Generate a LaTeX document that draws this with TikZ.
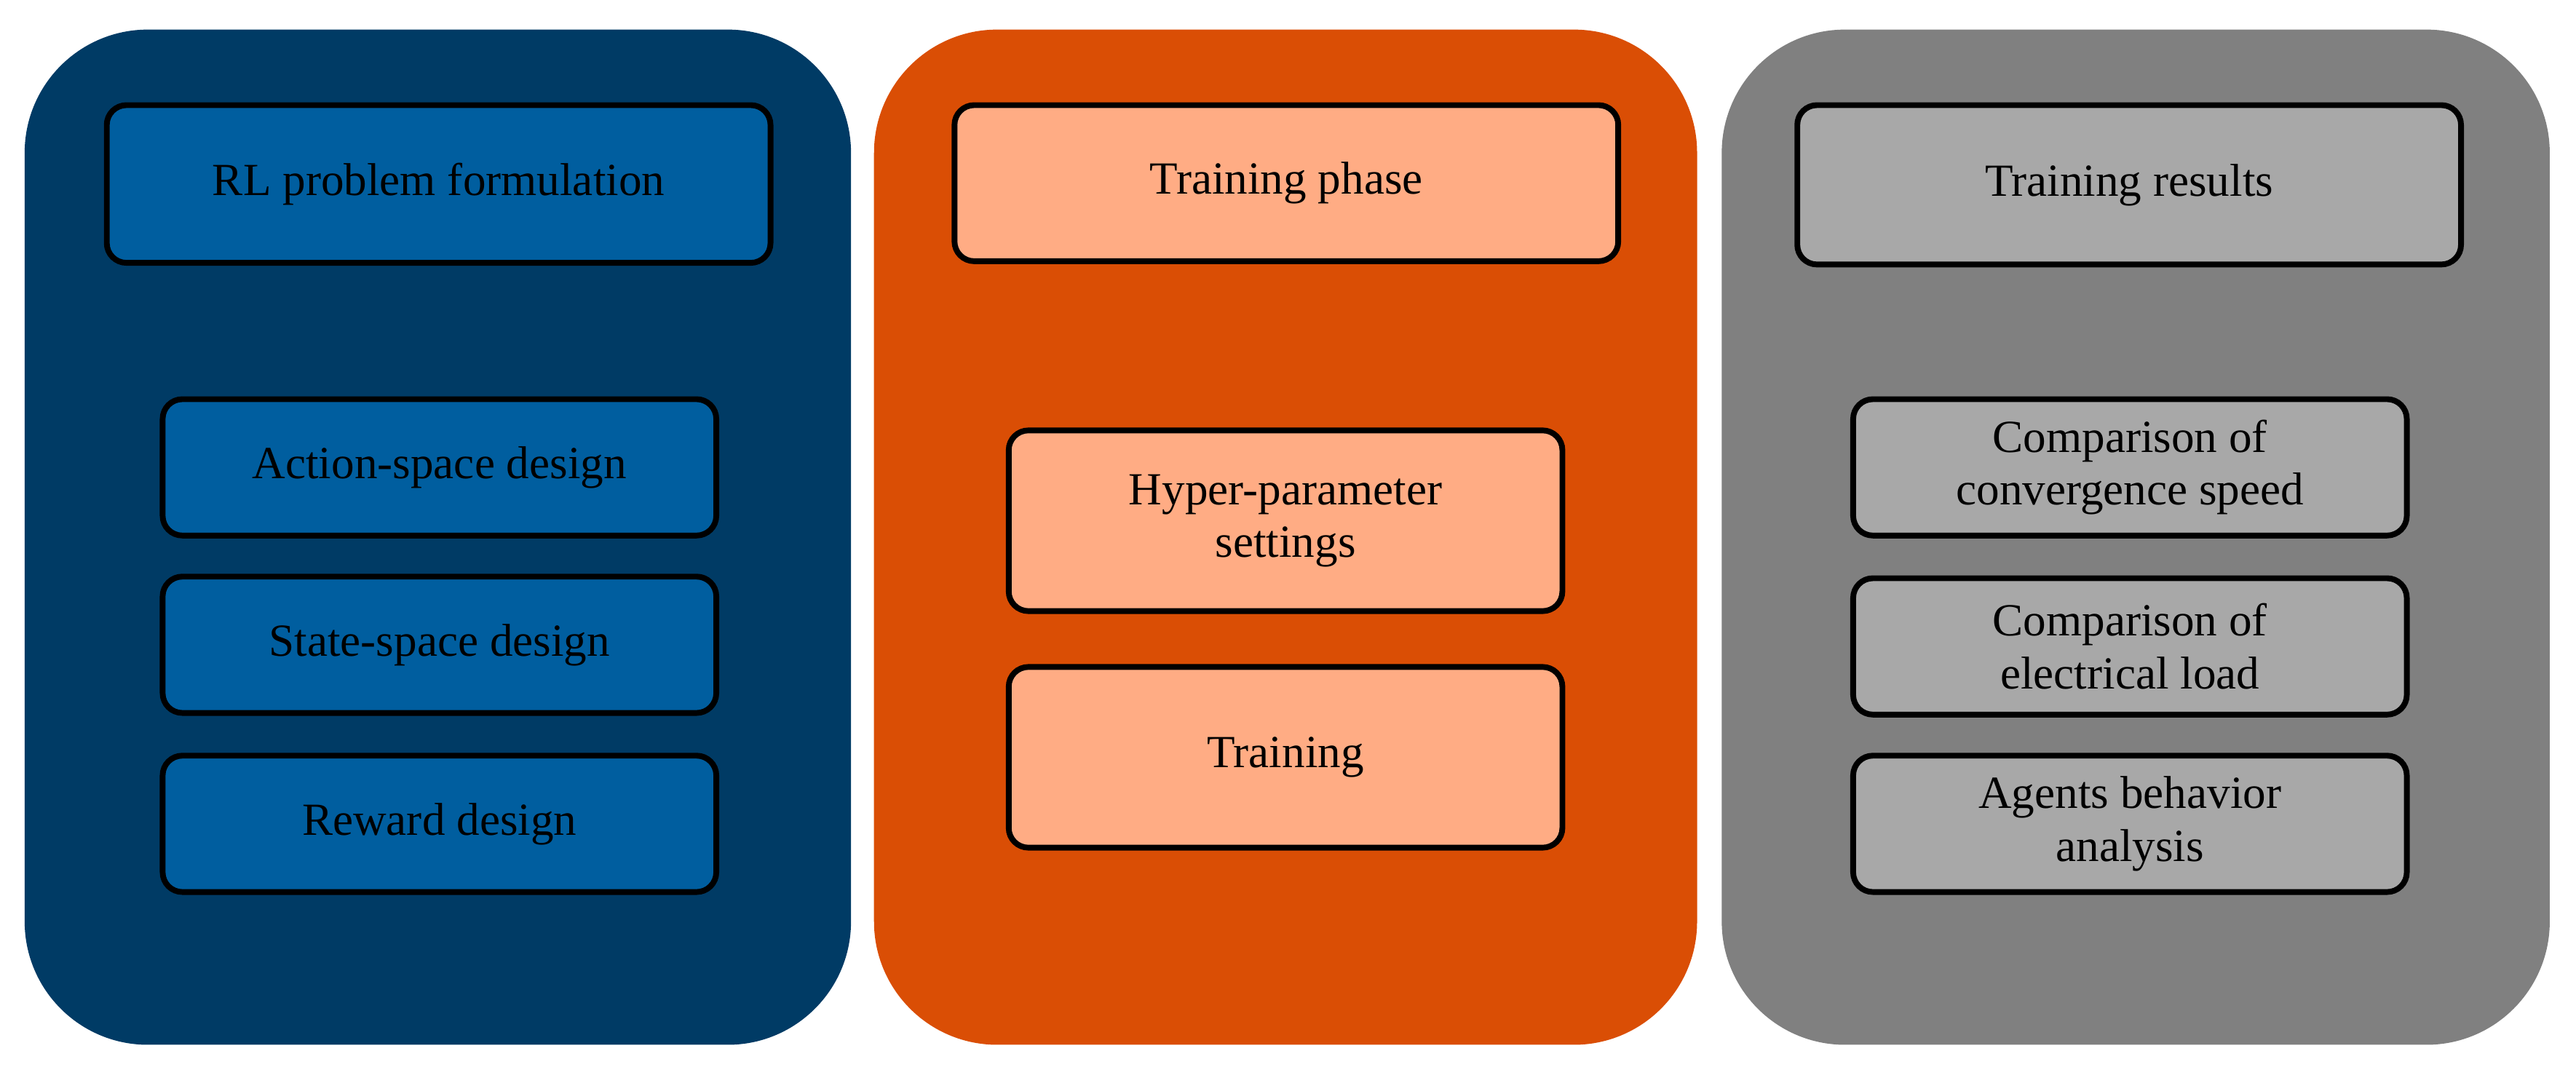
\documentclass[tikz,border=0pt]{standalone}
\usepackage{fontspec}
\setmainfont{Liberation Serif}
\begin{document}
\begin{tikzpicture}[x=1pt,y=-1pt,
  panel/.style={rounded corners=75pt},
  box/.style={draw=black,line width=3.5pt,rounded corners=12pt,align=center,font=\fontsize{28}{32}\selectfont},
]
\definecolor{navy}{HTML}{003B65}\definecolor{blueb}{HTML}{005E9F}
\definecolor{orng}{HTML}{DA4E05}\definecolor{peach}{HTML}{FFAC84}
\definecolor{gry}{HTML}{808080}\definecolor{lgry}{HTML}{A8A8A8}
\useasboundingbox (0,0) rectangle (1568,654);
\fill[navy,panel] (15,18) rectangle (518,636);
\fill[orng,panel] (532,18) rectangle (1033,636);
\fill[gry,panel] (1048,18) rectangle (1552,636);
\newcommand{\bx}[7]{\node[box,fill=#6,minimum width={#3-#2},minimum height={#5-#4}] (#1) at ({(#2+#3)/2},{(#4+#5)/2}) {#7};}
\bx{a0}{65}{469}{64}{160}{blueb}{RL problem formulation}
\bx{a1}{99}{436}{243}{326}{blueb}{Action-space design}
\bx{a2}{99}{436}{351}{434}{blueb}{State-space design}
\bx{a3}{99}{436}{460}{543}{blueb}{Reward design}
\bx{b0}{581}{985}{64}{159}{peach}{Training phase}
\bx{b1}{614}{951}{262}{372}{peach}{Hyper-parameter\\settings}
\bx{b2}{614}{951}{406}{516}{peach}{Training}
\bx{c0}{1094}{1498}{64}{161}{lgry}{Training results}
\bx{c1}{1128}{1465}{243}{326}{lgry}{Comparison of\\convergence speed}
\bx{c2}{1128}{1465}{352}{435}{lgry}{Comparison of\\electrical load}
\bx{c3}{1128}{1465}{460}{543}{lgry}{Agents behavior\\analysis}
\end{tikzpicture}
\end{document}
